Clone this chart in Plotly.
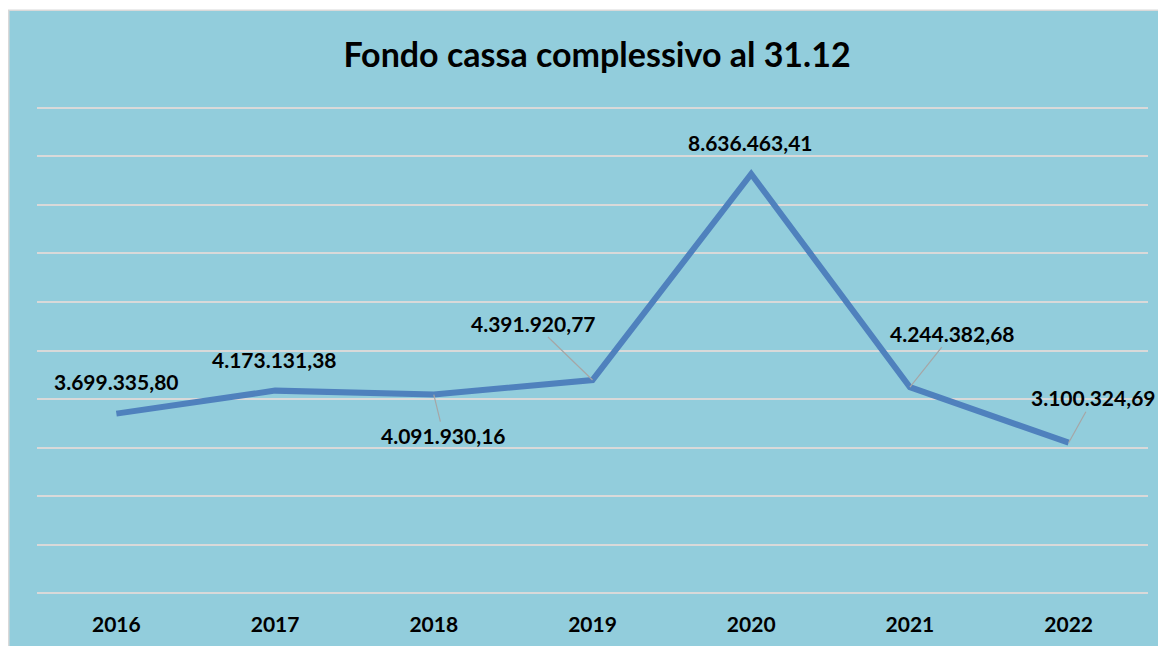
import plotly.graph_objects as go

years = ["2016", "2017", "2018", "2019", "2020", "2021", "2022"]
fondo_cassa = [3699335.80, 4173131.38, 4091930.16, 4391920.77, 8636463.41, 4244382.68, 3100324.69]
title_text = "Fondo cassa complessivo al 31.12"

# label placement: (x offset px, y offset px, leader line)
label_offsets = [(0, -32, False), (-1, -31, False), (10, 41, True), (-59, -57, True),
                 (-1, -32, False), (43, -54, True), (25, -45, True)]


def fmt_it(v):
    s = f"{v:,.2f}"
    return s.replace(",", "X").replace(".", ",").replace("X", ".")


BG = "#92CDDC"
FONT = "Lato"
W, H = 1166, 638          # page adds an 8px body margin
L, PW = 29, 1111          # left margin, plot width
R = W - L - PW
PX_PER_M = 48.5           # pixels per million
PAD = 100000              # axis padding so edge gridlines are drawn
T = 100 - PAD / 1e6 * PX_PER_M
PH = (10e6 + 2 * PAD) / 1e6 * PX_PER_M
B = H - T - PH

fig = go.Figure()
fig.add_trace(go.Scatter(
    x=years, y=fondo_cassa, mode="lines",
    line=dict(color="#4F81BD", width=6),
    hoverinfo="x+y",
))

annotations = []
for i, (v, (dx, dy, lead)) in enumerate(zip(fondo_cassa, label_offsets)):
    common = dict(x=i, y=v, xref="x", yref="y", text="<b>" + fmt_it(v) + "</b>",
                  font=dict(family=FONT, size=21, color="black"))
    if lead:
        annotations.append(dict(
            **common, showarrow=True, ax=dx, ay=dy, arrowhead=0, arrowwidth=1.2,
            arrowcolor="#A6A6A6", standoff=0, startstandoff=0,
        ))
    else:
        annotations.append(dict(
            **common, showarrow=False, xshift=dx, yshift=-dy,
            yanchor="middle", xanchor="center",
        ))

fig.update_layout(
    width=W, height=H,
    margin=dict(l=L, r=R, t=T, b=B, autoexpand=False),
    paper_bgcolor="white",
    plot_bgcolor=BG,
    showlegend=False,
    title=dict(text="<b>" + title_text + "</b>", x=589 / W, xanchor="center",
               y=1 - 47 / H, yanchor="middle", yref="container",
               font=dict(family=FONT, size=34, color="black")),
    annotations=annotations,
    shapes=[dict(type="rect", xref="paper", yref="paper", layer="below",
                 x0=(0.75 - L) / PW, x1=1.1, y0=-0.2, y1=(T + PH - 2.5) / PH,
                 fillcolor=BG, line=dict(color="#D9D9D9", width=1.5))],
)
fig.update_xaxes(
    type="category", categoryarray=years, categoryorder="array",
    range=[-0.5, len(years) - 0.5], autorange=False, automargin=False,
    showgrid=False, zeroline=False, showline=False, ticks="",
    tickfont=dict(family=FONT, size=21, color="black"),
    ticklabelstandoff=int(round(17 - PAD / 1e6 * PX_PER_M)),
    tickvals=years, ticktext=["<b>" + y + "</b>" for y in years],
)
fig.update_yaxes(
    range=[-PAD, 10e6 + PAD], autorange=False, automargin=False,
    dtick=1000000, tick0=0,
    showgrid=True, gridcolor="#D9D9D9", gridwidth=2,
    zeroline=False, showline=False, showticklabels=False, ticks="",
)

fig.write_html(
    "out.html",
    post_script="document.documentElement.style.overflow='hidden';"
                "document.body.style.overflow='hidden';",
)
